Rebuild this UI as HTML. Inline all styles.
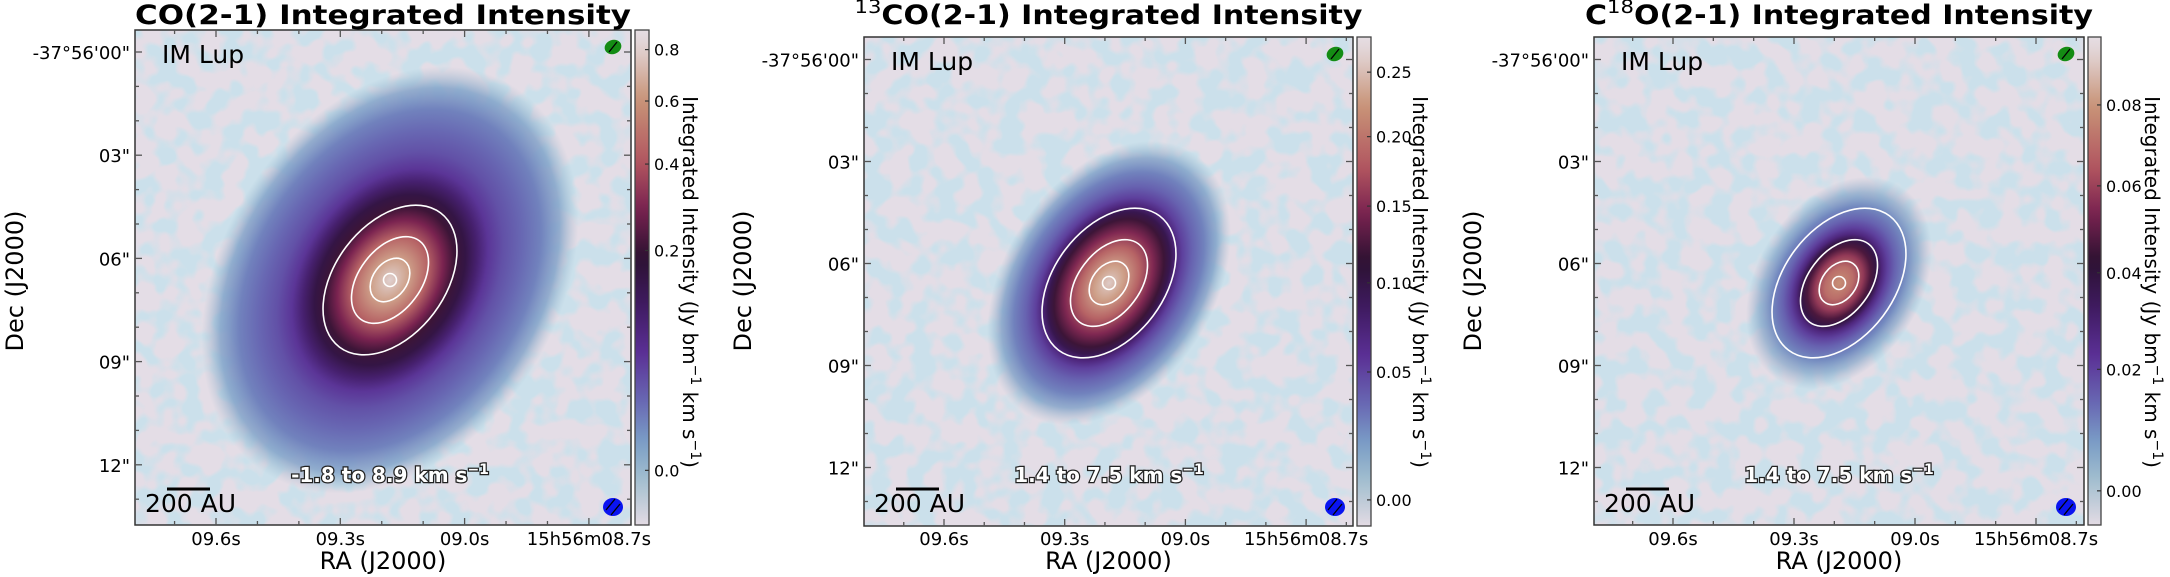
<!DOCTYPE html>
<html><head><meta charset="utf-8"><style>
html,body{margin:0;padding:0;background:#fff;}
svg{display:block;font-family:"DejaVu Sans","Liberation Sans",sans-serif;}
</style></head><body>
<svg id="fig" width="2170" height="577" viewBox="0 0 2170 577" xmlns="http://www.w3.org/2000/svg">
<defs>
<filter id="noise" x="0" y="0" width="100%" height="100%">
<feTurbulence type="fractalNoise" baseFrequency="0.045" numOctaves="2" seed="7"/>
<feColorMatrix type="matrix" values="0 0 0 0 0.6  0 0 0 0 0.75  0 0 0 0 0.83  6 0 0 0 -2.6"/>
<feComposite in2="SourceGraphic" operator="in"/>
</filter>
</defs>
</svg>
<script>
// ---- data arrays ----
const cbTicks1 = [0.0, 0.2, 0.4, 0.6, 0.8];
const cbTicks2 = [0.00, 0.05, 0.10, 0.15, 0.20, 0.25];
const cbTicks3 = [0.00, 0.02, 0.04, 0.06, 0.08];
const cbLabels1 = ["0.0","0.2","0.4","0.6","0.8"];
const cbLabels2 = ["0.00","0.05","0.10","0.15","0.20","0.25"];
const cbLabels3 = ["0.00","0.02","0.04","0.06","0.08"];
const raTickLabels = ["09.6s","09.3s","09.0s","15h56m08.7s"];
const decTickLabels = ["-37°56'00\"","03\"","06\"","09\"","12\""];
const decTickArcsec = [0, 3, 6, 9, 12];
const titles = ["CO(2-1) Integrated Intensity","13CO(2-1) Integrated Intensity","C18O(2-1) Integrated Intensity"];
const velLabels = ["-1.8 to 8.9 km s","1.4 to 7.5 km s","1.4 to 7.5 km s"];
// ----------------------

const NS="http://www.w3.org/2000/svg";
const svg=document.getElementById('fig');
function mk(tag,attrs,parent){const e=document.createElementNS(NS,tag);for(const k in attrs)e.setAttribute(k,attrs[k]);(parent||svg).appendChild(e);return e;}

const cmapT=[0,.09,.17,.25,.35,.45,.54,.64,.73,.86,.96,1];
const cmapC=["#e3dbe4","#a3bfcf","#7a9cc6","#6868b3","#5a2f94","#3e1a5e","#2c1131","#7a2350","#b0545f","#c99478","#e0d0cf","#e6dee4"];
function hex(c){return [parseInt(c.slice(1,3),16),parseInt(c.slice(3,5),16),parseInt(c.slice(5,7),16)];}
function cmap(t){t=Math.max(0,Math.min(1,t));for(let i=0;i<cmapT.length-1;i++){if(t<=cmapT[i+1]){const f=(t-cmapT[i])/(cmapT[i+1]-cmapT[i]);const a=hex(cmapC[i]),b=hex(cmapC[i+1]);return 'rgb('+a.map((v,j)=>Math.round(v+(b[j]-v)*f)).join(',')+')';}}return cmapC[cmapC.length-1];}

const defs=svg.querySelector('defs');
const cg=mk('linearGradient',{id:'cbgrad',x1:0,y1:1,x2:0,y2:0},defs);
for(let i=0;i<=40;i++){const t=i/40;mk('stop',{offset:t,'stop-color':cmap(t)},cg);}

const panels=[
 {L:135,R:631,T:30,B:525,cbL:635,cbR:649,dec0:52,decStep:34.4,ra0:216,raStep:124.3,
  ticks:cbTicks1,labels:cbLabels1,vmin:-0.0036,vrange:0.889,gamma:0.4,
  cx:390,cy:280,a:230,b:168,rot:33,
  prof:[[0,.96],[.1,.88],[.2,.76],[.28,.64],[.34,.56],[.4,.5],[.46,.42],[.52,.34],[.6,.29],[.7,.25],[.8,.21],[.9,.16,.8],[1,.1,0]],
  cbLabX:690,decLabX:14},
 {L:864,R:1353,T:37,B:526,cbL:1357,cbR:1371,dec0:59.5,decStep:34.0,ra0:944,raStep:120.7,
  ticks:cbTicks2,labels:cbLabels2,vmin:-0.0043,vrange:0.2829,gamma:0.7,
  cx:1109,cy:283,a:155,b:105,rot:33,
  prof:[[0,.95],[.12,.88],[.25,.76],[.36,.65],[.45,.56],[.5,.48],[.55,.39],[.6,.32],[.68,.26],[.78,.21],[.88,.16,.8],[1,.1,0]],
  cbLabX:1420,decLabX:742},
 {L:1594,R:2084,T:37,B:525,cbL:2088,cbR:2101,dec0:59.5,decStep:34.0,ra0:1673,raStep:121,
  ticks:cbTicks3,labels:cbLabels3,vmin:-0.00334,vrange:0.101,gamma:0.78,
  cx:1839,cy:283,a:115,b:82,rot:33,
  prof:[[0,.85],[.15,.78],[.26,.68],[.34,.58],[.4,.5],[.46,.39],[.52,.32],[.6,.26],[.72,.2],[.85,.15,.7],[1,.12,0]],
  cbLabX:2152,decLabX:1472}
];

panels.forEach((p,pi)=>{
 const W=p.R-p.L,H=p.B-p.T;
 const g=mk('g',{});
 
 
 const cp=mk('clipPath',{id:'clip'+pi},defs);
 mk('rect',{x:p.L,y:p.T,width:W,height:H},cp);
 const img=mk('g',{'clip-path':'url(#clip'+pi+')'},g);
 
 
 mk('rect',{x:p.L,y:p.T,width:W,height:H,fill:'#e4dde6'},img);
 const nz=mk('rect',{x:p.L,y:p.T,width:W,height:H,fill:'#a5c3d3',filter:'url(#noise)'},img);
 
 
 const rg=mk('radialGradient',{id:'em'+pi,cx:.5,cy:.5,r:.5},defs);
 p.prof.forEach(s=>{mk('stop',{offset:s[0],'stop-color':cmap(s[1]),'stop-opacity':s.length>2?s[2]:1},rg);});
 const em=mk('ellipse',{cx:p.cx,cy:p.cy,rx:p.b,ry:p.a,fill:'url(#em'+pi+')',transform:'rotate('+p.rot+' '+p.cx+' '+p.cy+')'},img);
 
 
 [[84,55],[49,31],[24,17]].forEach((c,ci)=>{
  const e=mk('ellipse',{cx:p.cx,cy:p.cy,rx:c[1],ry:c[0],fill:'none',stroke:'#fff','stroke-width':1.6,transform:'rotate(37 '+p.cx+' '+p.cy+')'},img);
  
  
 });
 const ic=mk('circle',{cx:p.cx,cy:p.cy,r:6.5,fill:'none',stroke:'#fff','stroke-width':1.6},img);
 
 
 const bx=p.R-18;
 const gb=mk('g',{},img);
 
 
 mk('ellipse',{cx:bx,cy:p.T+17,rx:8.5,ry:7,fill:'#148c14',transform:'rotate(-20 '+bx+' '+(p.T+17)+')'},gb);
 mk('line',{x1:bx-4,y1:p.T+22,x2:bx+4,y2:p.T+12,stroke:'#000','stroke-width':1.3},gb);
 const bb=mk('g',{},img);
 
 
 mk('ellipse',{cx:bx,cy:507,rx:10,ry:9,fill:'#0a14f0'},bb);
 mk('line',{x1:bx-7,y1:510,x2:bx+2,y2:499,stroke:'#000','stroke-width':1.3},bb);
 mk('line',{x1:bx-2,y1:515,x2:bx+7,y2:504,stroke:'#000','stroke-width':1.3},bb);
 const im=mk('text',{x:p.L+27,y:p.T+33,'font-size':25,fill:'#000'},g);
 im.textContent='IM Lup';
 
 
 const sb=mk('line',{x1:p.L+32,y1:489,x2:p.L+75,y2:489,stroke:'#000','stroke-width':3},g);
 
 
 const st=mk('text',{x:p.L+10,y:512,'font-size':25,fill:'#000'},g);
 st.textContent='200 AU';
 
 
 const vt=mk('text',{x:p.cx,y:482,'font-size':20,'font-weight':'bold','text-anchor':'middle',fill:'#fff',stroke:'#222','stroke-width':2.5,'paint-order':'stroke'},g);
 
 
 const t1=mk('tspan',{},vt);t1.textContent=velLabels[pi];
 const t2=mk('tspan',{dy:-8,'font-size':14},vt);t2.textContent='−1';
 const fr=mk('rect',{x:p.L,y:p.T,width:W,height:H,fill:'none',stroke:'#333','stroke-width':1.5},g);
 
 
 for(let k=0;k<=14;k++){
  const y=p.dec0+k*p.decStep; if(y>p.B-2)break;
  const len=(k%3===0)?7:4;
  mk('line',{x1:p.L,y1:y,x2:p.L+len,y2:y,stroke:'#555','stroke-width':1.3},g);
  mk('line',{x1:p.R,y1:y,x2:p.R-len,y2:y,stroke:'#555','stroke-width':1.3},g);
 }
 decTickArcsec.forEach((s,i)=>{
  const t=mk('text',{x:p.L-5,y:p.dec0+s*p.decStep+7,'font-size':18,'text-anchor':'end',fill:'#000'},g);
  t.textContent=decTickLabels[i];
  
  
 });
 const mstep=p.raStep/3;
 for(let k=-3;k<=12;k++){
  const x=p.ra0+k*mstep; if(x<p.L+2||x>p.R-2)continue;
  const len=(k%3===0)?7:4;
  mk('line',{x1:x,y1:p.B,x2:x,y2:p.B-len,stroke:'#555','stroke-width':1.3},g);
  mk('line',{x1:x,y1:p.T,x2:x,y2:p.T+len,stroke:'#555','stroke-width':1.3},g);
 }
 raTickLabels.forEach((l,i)=>{
  const t=mk('text',{x:p.ra0+i*p.raStep,y:545,'font-size':18,'text-anchor':'middle',fill:'#000'},g);
  t.textContent=l;
  
  
 });
 const ra=mk('text',{x:(p.L+p.R)/2,y:569,'font-size':24,'text-anchor':'middle',fill:'#000'},g);
 ra.textContent='RA (J2000)';
 
 
 const dc=mk('text',{x:0,y:0,'font-size':24,'text-anchor':'middle',fill:'#000',transform:'translate('+(p.decLabX+9)+' 281) rotate(-90)'},g);
 dc.textContent='Dec (J2000)';
 
 
 const tt=mk('text',{x:(p.L+p.R)/2,y:24,'font-size':27,'font-weight':'bold','text-anchor':'middle',fill:'#000'},g);
 
 
 const tl=titles[pi];
 if(pi===0){tt.textContent=tl;tt.setAttribute('textLength',496);tt.setAttribute('lengthAdjust','spacingAndGlyphs');}
 else if(pi===1){const a=mk('tspan',{'font-size':19,'font-weight':'normal',dy:-11},tt);a.textContent='13';const b=mk('tspan',{dy:11},tt);b.textContent=tl.slice(2);tt.setAttribute('textLength',508);tt.setAttribute('lengthAdjust','spacingAndGlyphs');}
 else {const a=mk('tspan',{},tt);a.textContent='C';const b=mk('tspan',{'font-size':19,'font-weight':'normal',dy:-11},tt);b.textContent='18';const c=mk('tspan',{dy:11},tt);c.textContent=tl.slice(3);tt.setAttribute('textLength',508);tt.setAttribute('lengthAdjust','spacingAndGlyphs');}
 const cb=mk('g',{},g);
 
 
 mk('rect',{x:p.cbL,y:p.T,width:p.cbR-p.cbL,height:H,fill:'url(#cbgrad)',stroke:'#444','stroke-width':1.3},cb);
 const yOf=v=>p.B-Math.pow((v-p.vmin)/p.vrange,p.gamma)*H;
 p.ticks.forEach((v,i)=>{
  const y=yOf(v);
  mk('line',{x1:p.cbR,y1:y,x2:p.cbR-4,y2:y,stroke:'#333','stroke-width':1.2},cb);
  const t=mk('text',{x:p.cbR+5,y:y+6,'font-size':16,fill:'#000'},cb);
  t.textContent=p.labels[i];
  
  
 });
 const cl=mk('text',{x:0,y:0,'font-size':20,'text-anchor':'middle',fill:'#000',transform:'translate('+(p.cbLabX-7)+' 282) rotate(90)'},cb);
 
 
 const c1=mk('tspan',{},cl);c1.textContent='Integrated Intensity (Jy bm';
 const c2=mk('tspan',{dy:-8,'font-size':14},cl);c2.textContent='−1';
 const c3=mk('tspan',{dy:8},cl);c3.textContent=' km s';
 const c4=mk('tspan',{dy:-8,'font-size':14},cl);c4.textContent='−1';
 const c5=mk('tspan',{dy:8},cl);c5.textContent=')';
});
</script>
</body></html>
